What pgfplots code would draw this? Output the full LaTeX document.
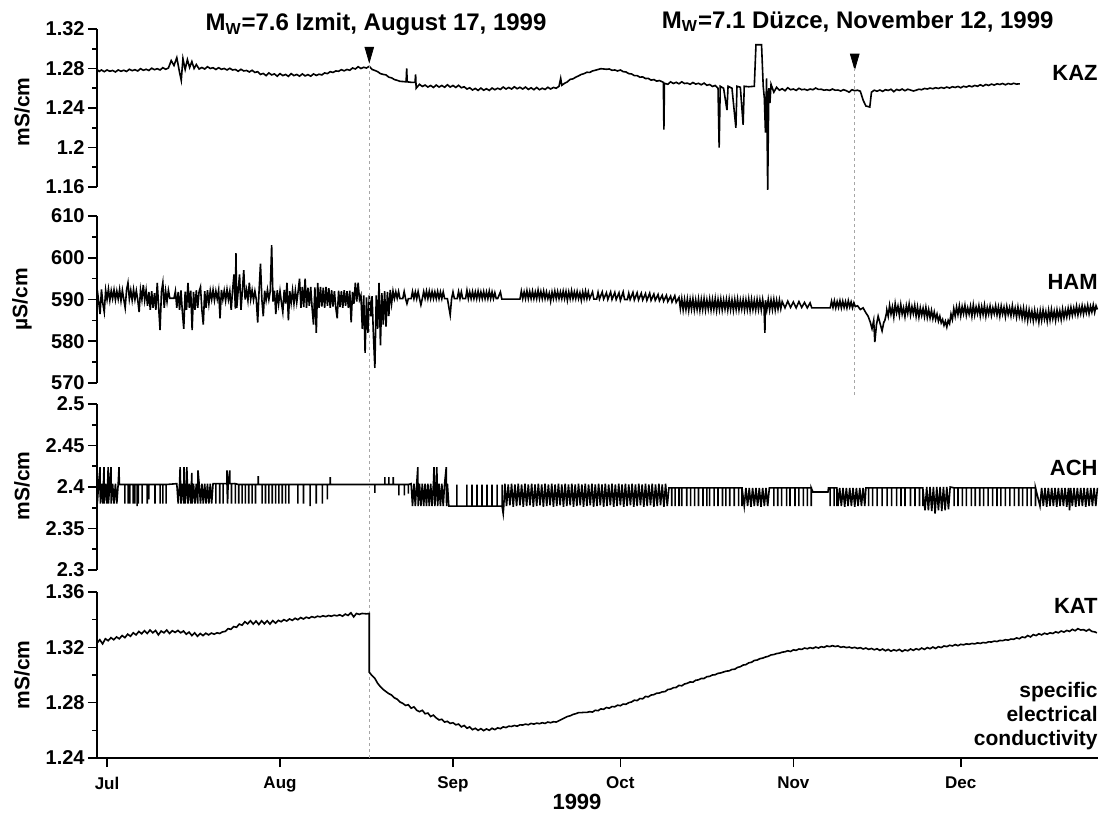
\documentclass[border=0pt]{standalone}
\usepackage{pgfplots}
\pgfplotsset{compat=1.18}
\usepackage{pgfplotstable}
\usepackage{fontspec}
\setmainfont{Liberation Sans}

\pgfplotstableread[row sep=\\]{
x y\\
-1.8 1.2790\\-1.4 1.2770\\-1.0 1.2785\\-0.5 1.2768\\0 1.2785\\0.5 1.2772\\1 1.2780\\1.5 1.2765\\2 1.2785\\2.5 1.2772\\3 1.2782\\3.5 1.2770\\4 1.2792\\4.5 1.2778\\5 1.2788\\5.5 1.2775\\6 1.2798\\6.5 1.2782\\7 1.2792\\7.5 1.2780\\8 1.2803\\8.5 1.2788\\9 1.2798\\9.5 1.2785\\10 1.2808\\10.5 1.2792\\11 1.2805\\11.5 1.2880\\12 1.2830\\12.5 1.2910\\13 1.2760\\13.3 1.2680\\13.6 1.2900\\14 1.2790\\14.4 1.2890\\14.8 1.2810\\15.2 1.2870\\15.6 1.2800\\16 1.2840\\16.5 1.2795\\17 1.2810\\17.5 1.2795\\18 1.2818\\18.5 1.2800\\19 1.2808\\19.5 1.2790\\20 1.2808\\20.5 1.2792\\21 1.2800\\21.5 1.2785\\22 1.2802\\22.5 1.2785\\23 1.2790\\23.5 1.2772\\24 1.2792\\24.5 1.2775\\25 1.2780\\25.5 1.2765\\26 1.2782\\26.5 1.2760\\27 1.2768\\27.5 1.2740\\28 1.2750\\28.5 1.2728\\29 1.2755\\29.5 1.2735\\30 1.2745\\30.5 1.2722\\31 1.2748\\31.5 1.2728\\32 1.2740\\32.5 1.2720\\33 1.2748\\33.5 1.2728\\34 1.2740\\34.5 1.2722\\35 1.2745\\35.5 1.2725\\36 1.2738\\36.5 1.2722\\37 1.2745\\37.5 1.2730\\38 1.2742\\38.5 1.2735\\39 1.2755\\39.5 1.2748\\40 1.2768\\40.5 1.2760\\41 1.2775\\41.5 1.2772\\42 1.2788\\42.5 1.2776\\43 1.2790\\43.5 1.2782\\44 1.2805\\44.5 1.2795\\45 1.2818\\45.5 1.2800\\46 1.2812\\46.5 1.2805\\47 1.2822\\47.5 1.2790\\48 1.2780\\48.5 1.2768\\49 1.2748\\49.5 1.2740\\50 1.2735\\50.5 1.2712\\51 1.2705\\51.5 1.2688\\52 1.2680\\52.5 1.2670\\53 1.2668\\53.6 1.2665\\53.7 1.2800\\53.8 1.2665\\54.5 1.2660\\55.2 1.2660\\55.3 1.2740\\55.4 1.2600\\56 1.2640\\56.5 1.2618\\57 1.2632\\57.5 1.2612\\58 1.2628\\58.5 1.2608\\59 1.2632\\59.5 1.2612\\60 1.2628\\60.5 1.2610\\61 1.2635\\61.5 1.2612\\62 1.2628\\62.5 1.2608\\63 1.2630\\63.5 1.2605\\64 1.2615\\64.5 1.2592\\65 1.2605\\65.5 1.2582\\66 1.2598\\66.5 1.2578\\67 1.2602\\67.5 1.2580\\68 1.2595\\68.5 1.2578\\69 1.2602\\69.5 1.2585\\70 1.2600\\70.5 1.2588\\71 1.2612\\71.5 1.2592\\72 1.2608\\72.5 1.2592\\73 1.2615\\73.5 1.2595\\74 1.2610\\74.5 1.2592\\75 1.2612\\75.5 1.2588\\76 1.2605\\76.5 1.2585\\77 1.2608\\77.5 1.2585\\78 1.2600\\78.5 1.2588\\79 1.2610\\79.5 1.2592\\80 1.2608\\80.5 1.2600\\81 1.2620\\81.3 1.2700\\81.5 1.2630\\82 1.2650\\82.5 1.2665\\83 1.2690\\83.5 1.2695\\84 1.2712\\84.5 1.2725\\85 1.2740\\85.5 1.2748\\86 1.2762\\86.5 1.2760\\87 1.2775\\87.5 1.2782\\88 1.2790\\88.5 1.2798\\89 1.2795\\89.5 1.2792\\90 1.2795\\90.5 1.2782\\91 1.2785\\91.5 1.2775\\92 1.2785\\92.5 1.2768\\93 1.2765\\93.5 1.2748\\94 1.2745\\94.5 1.2728\\95 1.2728\\95.5 1.2712\\96 1.2715\\96.5 1.2698\\97 1.2700\\97.5 1.2682\\98 1.2688\\98.5 1.2672\\99 1.2678\\99.7 1.2660\\99.8 1.2180\\99.9 1.2650\\100.5 1.2640\\101 1.2665\\101.5 1.2648\\102 1.2660\\102.5 1.2645\\103 1.2665\\103.5 1.2648\\104 1.2652\\104.5 1.2640\\105 1.2658\\105.5 1.2642\\106 1.2650\\106.5 1.2635\\107 1.2652\\107.5 1.2630\\108 1.2638\\108.5 1.2618\\109 1.2628\\109.5 1.2600\\109.7 1.2000\\109.9 1.2620\\110.5 1.2600\\111.1 1.2380\\111.3 1.2620\\112 1.2600\\112.7 1.2200\\112.9 1.2620\\113.5 1.2610\\114 1.2230\\114.2 1.2620\\115 1.2615\\116 1.2620\\116.3 1.3040\\117.3 1.3040\\117.6 1.2620\\117.8 1.2500\\118 1.2150\\118.2 1.2700\\118.4 1.1570\\118.6 1.2600\\118.8 1.2450\\119 1.2640\\119.5 1.2560\\120 1.2610\\120.5 1.2580\\121 1.2595\\121.5 1.2575\\122 1.2605\\122.5 1.2585\\123 1.2592\\123.5 1.2578\\124 1.2600\\124.5 1.2585\\125 1.2590\\125.5 1.2580\\126 1.2592\\126.5 1.2585\\127 1.2602\\127.5 1.2588\\128 1.2590\\128.5 1.2580\\129 1.2585\\129.5 1.2578\\130 1.2592\\130.5 1.2580\\131 1.2582\\131.5 1.2572\\132 1.2585\\132.5 1.2575\\133 1.2560\\133.5 1.2585\\134 1.2575\\134.5 1.2580\\135 1.2570\\135.5 1.2480\\136 1.2420\\136.7 1.2410\\137 1.2560\\137.5 1.2580\\138 1.2570\\138.5 1.2582\\139 1.2568\\139.5 1.2585\\140 1.2578\\140.5 1.2590\\141 1.2565\\141.5 1.2588\\142 1.2578\\142.5 1.2592\\143 1.2575\\143.5 1.2590\\144 1.2582\\144.5 1.2572\\145 1.2580\\145.5 1.2590\\146 1.2585\\146.5 1.2598\\147 1.2592\\147.5 1.2602\\148 1.2595\\148.5 1.2605\\149 1.2598\\149.5 1.2608\\150 1.2600\\150.5 1.2612\\151 1.2602\\151.5 1.2615\\152 1.2608\\152.5 1.2618\\153 1.2605\\153.5 1.2620\\154 1.2612\\154.5 1.2625\\155 1.2615\\155.5 1.2628\\156 1.2620\\156.5 1.2635\\157 1.2622\\157.5 1.2638\\158 1.2628\\158.5 1.2642\\159 1.2632\\159.5 1.2645\\160 1.2638\\160.5 1.2648\\161 1.2635\\161.5 1.2648\\162 1.2640\\162.5 1.2650\\163 1.2642\\163.6 1.2645\\
}\kazdata

\pgfplotstableread[row sep=\\]{
x y\\
-1.8 590.5\\-1.75 592.3\\-1.5 589.5\\-1.25 586.5\\-1.0 592.4\\-0.75 589.0\\-0.5 587.0\\-0.25 592.2\\0 590.0\\0.25 592.5\\0.5 589.8\\0.75 592.1\\1.0 590.2\\1.25 592.3\\1.5 589.9\\1.75 592.0\\2.0 590.1\\2.25 592.4\\2.5 589.7\\2.75 592.2\\3.0 590.0\\3.25 588.0\\3.5 592.3\\3.75 594.0\\4.0 590.1\\4.25 592.2\\4.5 589.8\\4.75 592.4\\5.0 590.0\\5.25 592.1\\5.5 589.9\\5.75 587.0\\6.0 592.3\\6.25 590.0\\6.5 593.5\\6.75 589.8\\7.0 592.2\\7.25 588.5\\7.5 591.8\\7.75 587.5\\8.0 592.0\\8.25 588.0\\8.5 591.5\\8.75 587.5\\9.0 594.0\\9.25 588.2\\9.5 582.7\\9.75 591.8\\10.0 594.0\\10.25 588.0\\10.5 592.0\\10.75 589.5\\11.0 592.2\\11.25 590.3\\12.0 590.3\\12.25 592.0\\12.5 588.0\\12.75 591.8\\13.0 587.5\\13.25 592.2\\13.5 587.0\\13.75 583.0\\14.0 591.9\\14.25 587.5\\14.5 594.0\\14.75 588.0\\15.0 592.1\\15.25 582.7\\15.5 591.8\\15.75 587.5\\16.0 592.2\\16.25 588.0\\16.5 591.9\\16.75 593.0\\17.0 587.5\\17.25 584.0\\17.5 592.0\\17.75 588.0\\18.0 592.2\\18.25 589.0\\18.5 592.1\\18.75 590.0\\19.0 592.3\\19.25 589.8\\19.5 592.0\\19.75 590.1\\20.0 592.2\\20.25 585.5\\20.5 592.3\\20.75 590.0\\21.0 592.1\\21.25 589.7\\21.5 592.4\\21.75 590.0\\22.0 592.0\\22.25 587.5\\22.5 592.2\\22.75 596.0\\23.0 587.8\\23.1 601.1\\23.25 588.0\\23.5 592.1\\23.75 596.0\\24.0 587.5\\24.25 592.0\\24.5 597.0\\24.75 590.0\\25.0 592.3\\25.25 589.8\\25.5 594.0\\25.75 590.1\\26.0 592.2\\26.25 589.9\\26.5 592.0\\26.75 590.0\\27.0 584.5\\27.25 592.2\\27.5 598.6\\27.75 590.0\\28.0 586.0\\28.25 592.1\\28.5 589.8\\28.75 592.3\\29.0 590.0\\29.25 592.0\\29.5 603.0\\29.75 589.5\\30.0 592.1\\30.25 586.5\\30.5 592.2\\30.75 589.0\\31.0 592.0\\31.25 589.3\\31.5 587.0\\31.75 592.3\\32.0 589.0\\32.25 594.0\\32.5 585.0\\32.75 592.0\\33.0 589.2\\33.25 592.2\\33.5 589.0\\33.75 592.1\\34.0 589.3\\34.25 592.0\\34.5 595.0\\34.75 588.0\\35.0 593.0\\35.25 588.2\\35.5 595.0\\35.75 588.0\\36.0 592.8\\36.25 588.5\\36.5 593.0\\36.75 588.0\\37.0 584.0\\37.25 592.9\\37.5 582.0\\37.75 594.0\\38.0 588.0\\38.25 593.0\\38.5 588.3\\38.75 592.8\\39.0 588.0\\39.25 593.0\\39.5 588.5\\39.75 592.7\\40.0 588.0\\40.25 592.2\\40.5 588.3\\40.75 592.0\\41.0 588.0\\41.25 585.5\\41.5 592.1\\41.75 588.2\\42.0 592.0\\42.25 588.0\\42.5 592.2\\42.75 588.5\\43.0 592.0\\43.25 588.0\\43.5 592.1\\43.75 584.5\\44.0 591.8\\44.25 589.0\\44.5 594.0\\44.75 589.5\\45.0 594.0\\45.25 590.0\\45.5 591.0\\45.75 583.0\\46.0 591.0\\46.25 577.2\\46.5 590.5\\46.75 582.0\\47.0 591.0\\47.25 586.0\\47.5 590.8\\47.75 581.0\\48.0 573.6\\48.25 591.0\\48.5 583.0\\48.75 594.0\\49.0 579.0\\49.25 591.5\\49.5 584.0\\49.75 592.0\\50.0 583.5\\50.25 591.8\\50.5 586.0\\50.75 592.3\\51.0 589.0\\51.25 592.0\\51.5 590.2\\51.75 591.8\\52.0 590.3\\52.25 591.9\\52.5 590.2\\53.0 590.2\\53.25 591.9\\53.5 590.2\\53.75 589.0\\54.0 590.2\\54.5 590.2\\54.75 591.9\\55.0 590.2\\55.25 591.8\\55.5 590.2\\55.75 591.9\\56.0 590.2\\56.25 588.7\\56.5 590.2\\56.75 591.9\\57.0 590.3\\57.25 592.0\\57.5 590.2\\57.75 592.0\\58.0 590.2\\58.25 591.9\\58.5 590.2\\58.75 591.8\\59.0 590.2\\59.25 591.9\\59.5 590.2\\59.75 591.8\\60.0 590.2\\60.25 591.8\\60.5 590.2\\61.0 590.2\\61.5 586.3\\61.75 590.2\\
62.0 591.8\\62.25 590.2\\62.75 590.2\\63.0 591.9\\63.25 590.2\\63.5 591.8\\63.75 590.2\\64.25 590.2\\64.5 592.2\\64.75 590.2\\65.0 591.8\\65.25 590.2\\65.5 591.9\\65.75 590.2\\66.0 591.8\\66.25 590.2\\66.5 592.0\\66.75 590.2\\67.0 591.8\\67.25 590.2\\67.5 591.9\\67.75 590.2\\68.0 591.8\\68.25 590.2\\68.5 592.0\\68.75 590.2\\69.0 591.8\\69.25 590.2\\69.5 591.6\\69.75 590.2\\70.0 590.2\\70.5 591.8\\70.75 590.1\\74.0 590.1\\
74.25 592.0\\74.5 590.2\\74.75 591.8\\75.0 590.2\\75.25 592.1\\75.5 590.2\\75.75 591.9\\76.0 590.2\\76.25 592.0\\76.5 590.2\\76.75 591.8\\77.0 590.2\\77.25 592.2\\77.5 590.2\\77.75 591.9\\78.0 590.2\\78.25 592.0\\78.5 590.2\\78.75 591.8\\79.0 590.2\\79.25 591.5\\79.5 589.6\\79.75 591.8\\80.0 590.2\\80.25 592.0\\80.5 590.2\\80.75 591.9\\81.0 590.2\\81.25 591.8\\81.5 590.2\\81.75 592.0\\82.0 590.2\\82.25 591.9\\82.5 589.8\\82.75 591.8\\83.0 590.2\\83.25 592.1\\83.5 590.2\\83.75 591.8\\84.0 590.2\\84.25 591.9\\84.5 590.2\\84.75 591.6\\85.0 589.8\\85.25 591.8\\85.5 590.2\\85.75 592.0\\86.0 590.2\\86.25 591.8\\86.5 590.2\\
87.0 591.8\\87.25 590.1\\87.75 590.1\\88.0 591.7\\88.25 590.1\\88.75 591.8\\89.0 590.1\\89.5 591.6\\89.75 590.0\\90.25 591.8\\90.5 590.0\\91.0 591.7\\91.25 590.0\\91.75 591.6\\92.0 589.8\\92.5 591.8\\92.75 590.0\\93.25 590.0\\93.5 591.5\\93.75 590.0\\94.25 591.7\\94.5 589.9\\95.0 591.6\\95.25 589.9\\95.75 591.5\\96.0 589.9\\96.5 591.4\\96.75 589.8\\97.25 591.5\\97.5 589.8\\98.0 591.3\\98.25 589.8\\98.75 591.2\\99.0 589.7\\99.5 591.0\\99.75 589.6\\100.25 591.0\\100.5 589.5\\101.0 590.8\\101.25 589.4\\101.75 590.9\\102.0 589.3\\102.5 590.5\\
102.75 587.8\\103.0 590.2\\103.25 587.5\\103.5 590.0\\103.75 587.6\\104.0 590.1\\104.25 587.4\\104.5 590.0\\104.75 587.7\\105.0 590.2\\105.25 587.5\\105.5 589.9\\105.75 587.6\\106.0 590.1\\106.25 587.4\\106.5 590.0\\106.75 587.6\\107.0 590.2\\107.25 587.5\\107.5 589.9\\107.75 587.7\\108.0 590.1\\108.25 587.5\\108.5 590.0\\108.75 587.6\\109.0 590.2\\109.25 587.4\\109.5 590.0\\109.75 587.6\\110.0 590.1\\110.25 587.5\\110.5 589.9\\110.75 587.7\\111.0 590.0\\111.25 587.5\\111.5 590.1\\111.75 587.6\\112.0 589.9\\112.25 587.4\\112.5 590.0\\112.75 587.6\\113.0 590.1\\113.25 587.5\\113.5 589.8\\113.75 587.7\\114.0 590.0\\114.25 587.5\\114.5 589.9\\114.75 587.6\\115.0 590.1\\115.25 587.4\\115.5 590.0\\115.75 587.6\\116.0 589.8\\116.25 587.5\\116.5 590.0\\116.75 587.6\\117.0 589.9\\117.25 587.5\\117.5 590.0\\117.75 587.8\\117.9 582.0\\118.0 589.8\\118.25 587.6\\118.5 590.0\\118.75 587.5\\119.0 589.9\\119.25 587.6\\119.5 590.0\\119.75 587.5\\120.0 589.8\\120.25 587.7\\120.5 589.9\\120.75 587.8\\
121.0 589.5\\121.5 588.0\\122.0 589.6\\122.5 588.1\\123.0 589.4\\123.5 588.0\\124.0 589.5\\124.5 588.1\\125.0 589.3\\125.5 588.0\\126.0 589.2\\126.3 588.0\\129.6 588.0\\
129.85 589.6\\130.1 588.1\\130.35 589.7\\130.6 588.0\\130.85 589.5\\131.1 588.1\\131.35 589.7\\131.6 588.0\\131.85 589.6\\132.1 588.1\\132.35 589.5\\132.6 588.0\\132.85 589.7\\133.1 588.2\\133.35 589.4\\133.6 588.0\\133.85 589.2\\134.1 588.3\\
134.5 588.5\\135.0 587.6\\135.5 588.0\\136.0 586.8\\136.4 586.0\\136.8 584.5\\137.1 583.0\\137.4 585.0\\137.6 579.8\\137.9 584.0\\138.2 586.0\\138.5 584.5\\138.9 582.5\\139.2 584.5\\139.4 585.0\\139.7 586.8\\
139.75 587.5\\140.0 586.0\\140.25 588.6\\140.5 586.5\\140.75 588.2\\141.0 585.8\\141.25 589.0\\141.5 586.8\\141.75 588.4\\142.0 586.2\\142.25 588.8\\142.5 586.5\\142.75 588.0\\143.0 585.9\\143.25 588.5\\143.5 586.7\\143.75 588.9\\144.0 586.3\\144.25 588.3\\144.5 586.6\\144.75 588.6\\145.0 586.0\\145.25 588.2\\145.5 585.8\\145.75 588.0\\146.0 586.2\\146.25 587.9\\146.5 585.9\\146.75 588.1\\147.0 585.7\\147.25 587.6\\147.5 585.6\\147.75 587.4\\148.0 585.4\\148.25 587.0\\148.5 585.2\\148.75 586.5\\149.0 584.8\\149.25 586.0\\149.5 584.4\\149.75 585.2\\150.0 583.8\\150.25 584.8\\150.5 583.4\\150.75 585.0\\151.0 584.2\\151.25 586.5\\151.5 585.2\\151.75 587.8\\
152.0 586.0\\152.25 588.2\\152.5 586.4\\152.75 588.5\\153.0 586.1\\153.25 588.3\\153.5 586.6\\153.75 588.6\\154.0 586.2\\154.25 588.0\\154.5 586.5\\154.75 588.4\\155.0 586.0\\155.25 588.7\\155.5 586.3\\155.75 588.2\\156.0 586.6\\156.25 588.5\\156.5 586.1\\156.75 588.3\\157.0 586.4\\157.25 588.6\\157.5 586.0\\157.75 588.1\\158.0 586.5\\158.25 588.4\\158.5 586.2\\158.75 588.0\\159.0 586.6\\159.25 588.5\\159.5 586.3\\159.75 588.2\\160.0 586.0\\160.25 588.4\\160.5 586.5\\160.75 588.1\\161.0 585.9\\161.25 588.3\\161.5 586.4\\161.75 588.0\\162.0 586.1\\162.25 588.5\\162.5 586.3\\162.75 587.9\\163.0 585.8\\163.25 588.2\\163.5 586.0\\163.75 587.8\\164.0 585.6\\164.25 587.9\\164.5 585.4\\164.75 587.6\\165.0 585.0\\165.25 587.5\\165.5 585.3\\165.75 587.2\\166.0 584.9\\166.25 587.4\\166.5 585.2\\166.75 587.0\\167.0 584.6\\167.25 587.3\\167.5 585.0\\167.75 587.5\\168.0 585.3\\168.25 587.1\\168.5 584.8\\168.75 587.4\\169.0 585.1\\169.25 587.6\\169.5 585.4\\169.75 587.2\\170.0 585.0\\170.25 587.5\\170.5 585.5\\170.75 587.3\\171.0 585.2\\171.25 587.7\\171.5 585.6\\171.75 587.5\\172.0 585.8\\172.25 587.9\\172.5 586.0\\172.75 588.1\\173.0 586.2\\173.25 588.0\\173.5 586.4\\173.75 588.4\\174.0 586.3\\174.25 588.2\\174.5 586.6\\174.75 588.5\\175.0 586.5\\175.25 588.3\\175.5 586.8\\175.75 588.6\\176.0 586.6\\176.25 588.4\\176.5 587.0\\176.75 588.7\\177.0 586.9\\177.25 588.5\\177.5 587.6\\
}\hamdata

\pgfplotstableread[row sep=\\]{
x y\\
-1.8 2.403\\-1.75 2.38\\-1.5 2.404\\-1.25 2.424\\-1.2 2.38\\-1.0 2.404\\-0.75 2.38\\-0.55 2.424\\-0.5 2.38\\-0.25 2.404\\0.0 2.38\\0.2 2.424\\0.25 2.38\\0.5 2.404\\0.7 2.424\\0.75 2.38\\1.0 2.404\\1.25 2.38\\1.5 2.404\\1.75 2.38\\2.0 2.404\\2.15 2.424\\2.2 2.403\\
3.2 2.403\\3.2 2.38\\3.2 2.403\\3.8 2.403\\3.8 2.38\\3.8 2.403\\4.1 2.403\\4.1 2.38\\4.1 2.403\\4.7 2.403\\4.7 2.38\\4.7 2.403\\5.0 2.403\\5.0 2.38\\5.0 2.403\\5.4 2.403\\5.4 2.377\\5.4 2.403\\5.6 2.403\\5.6 2.38\\5.6 2.403\\6.3 2.403\\6.3 2.38\\6.3 2.403\\7.2 2.403\\7.2 2.38\\7.2 2.403\\7.5 2.403\\7.5 2.385\\7.5 2.403\\8.6 2.403\\8.6 2.38\\8.6 2.403\\9.5 2.403\\9.5 2.38\\9.5 2.403\\10.0 2.403\\10.0 2.38\\10.0 2.403\\10.6 2.403\\10.6 2.38\\10.6 2.403\\12.5 2.404\\
12.75 2.38\\13.0 2.404\\13.1 2.424\\13.25 2.38\\13.5 2.404\\13.75 2.38\\13.8 2.424\\14.0 2.38\\14.25 2.404\\14.3 2.424\\14.5 2.38\\14.75 2.404\\15.0 2.38\\15.2 2.417\\15.25 2.38\\15.5 2.404\\15.75 2.38\\16.0 2.404\\16.25 2.38\\16.3 2.42\\16.5 2.404\\16.75 2.38\\17.0 2.404\\17.25 2.38\\17.5 2.404\\17.75 2.38\\18.0 2.404\\18.25 2.38\\18.5 2.404\\18.75 2.38\\19.0 2.404\\
19.5 2.404\\19.5 2.38\\19.5 2.404\\20.2 2.404\\20.2 2.38\\20.2 2.404\\20.8 2.404\\20.8 2.38\\20.8 2.404\\21.5 2.404\\21.5 2.42\\21.5 2.404\\21.6 2.38\\21.7 2.404\\22.0 2.42\\22.0 2.404\\22.3 2.404\\22.3 2.38\\22.3 2.404\\23.0 2.404\\23.0 2.38\\23.0 2.404\\
23.6 2.403\\23.6 2.38\\23.6 2.403\\24.2 2.403\\24.2 2.38\\24.2 2.403\\24.8 2.403\\24.8 2.38\\24.8 2.403\\25.4 2.403\\25.4 2.38\\25.4 2.403\\26.0 2.403\\26.0 2.38\\26.0 2.403\\26.6 2.403\\26.6 2.38\\26.6 2.403\\27.1 2.403\\27.1 2.413\\27.1 2.403\\27.8 2.403\\27.8 2.38\\27.8 2.403\\28.4 2.403\\28.4 2.38\\28.4 2.403\\29.0 2.403\\29.0 2.38\\29.0 2.403\\29.6 2.403\\29.6 2.38\\29.6 2.403\\30.2 2.403\\30.2 2.38\\30.2 2.403\\30.8 2.403\\30.8 2.38\\30.8 2.403\\31.4 2.403\\31.4 2.38\\31.4 2.403\\32.0 2.403\\32.0 2.38\\32.0 2.403\\32.6 2.403\\32.6 2.38\\32.6 2.403\\34.2 2.403\\34.2 2.38\\34.2 2.403\\35.2 2.403\\35.2 2.38\\35.2 2.403\\36.4 2.403\\36.4 2.377\\36.4 2.403\\37.5 2.403\\37.5 2.38\\37.5 2.403\\38.6 2.403\\38.6 2.38\\38.6 2.403\\39.5 2.403\\39.5 2.385\\39.5 2.403\\
40.0 2.403\\40.0 2.412\\40.0 2.403\\48.0 2.403\\48.0 2.393\\48.0 2.403\\49.8 2.403\\49.8 2.412\\49.8 2.403\\50.5 2.403\\50.5 2.412\\50.5 2.403\\51.3 2.403\\51.3 2.412\\51.3 2.403\\52.3 2.403\\52.3 2.39\\52.3 2.403\\53.3 2.403\\53.3 2.39\\53.3 2.403\\54.0 2.403\\54.0 2.392\\54.0 2.403\\54.5 2.404\\
54.75 2.377\\55.0 2.404\\55.25 2.377\\55.5 2.404\\55.7 2.424\\55.75 2.377\\56.0 2.404\\56.25 2.377\\56.5 2.404\\56.75 2.377\\57.0 2.404\\57.25 2.377\\57.5 2.404\\57.75 2.377\\58.0 2.404\\58.25 2.377\\58.5 2.404\\58.6 2.424\\58.75 2.377\\59.0 2.404\\59.1 2.424\\59.25 2.377\\59.5 2.404\\59.75 2.377\\60.0 2.404\\60.25 2.377\\60.5 2.404\\60.8 2.424\\60.85 2.377\\61.0 2.404\\61.25 2.377\\61.5 2.377\\
62.7 2.377\\62.7 2.403\\62.7 2.377\\64.5 2.377\\64.5 2.403\\64.5 2.377\\65.4 2.377\\65.4 2.403\\65.4 2.377\\66.3 2.377\\66.3 2.403\\66.3 2.377\\67.2 2.377\\67.2 2.403\\67.2 2.377\\68.1 2.377\\68.1 2.403\\68.1 2.377\\69.0 2.377\\69.0 2.403\\69.0 2.377\\69.9 2.377\\69.9 2.403\\69.9 2.377\\70.8 2.377\\70.8 2.403\\70.8 2.377\\71.0 2.368\\71.1 2.377\\
71.3 2.404\\71.6 2.377\\71.9 2.403\\72.2 2.378\\72.5 2.404\\72.8 2.376\\73.1 2.403\\73.4 2.377\\73.7 2.404\\74.0 2.378\\74.3 2.403\\74.6 2.376\\74.9 2.404\\75.2 2.377\\75.5 2.403\\75.8 2.378\\76.1 2.404\\76.4 2.376\\76.7 2.403\\77.0 2.377\\77.3 2.404\\77.6 2.378\\77.9 2.403\\78.2 2.376\\78.5 2.404\\78.8 2.377\\79.1 2.403\\79.4 2.378\\79.7 2.404\\80.0 2.376\\80.3 2.403\\80.6 2.377\\80.9 2.404\\81.2 2.378\\81.5 2.403\\81.8 2.376\\82.1 2.404\\82.4 2.377\\82.7 2.403\\83.0 2.378\\83.3 2.404\\83.6 2.376\\83.9 2.403\\84.2 2.377\\84.5 2.404\\84.8 2.378\\85.1 2.403\\85.4 2.376\\85.7 2.404\\86.0 2.377\\86.3 2.403\\86.6 2.378\\86.9 2.404\\87.2 2.376\\87.5 2.403\\87.8 2.377\\88.1 2.404\\88.4 2.378\\88.7 2.403\\89.0 2.376\\89.3 2.404\\89.6 2.377\\89.9 2.403\\90.2 2.378\\90.5 2.404\\90.8 2.376\\91.1 2.403\\91.4 2.377\\91.7 2.404\\92.0 2.378\\92.3 2.403\\92.6 2.376\\92.9 2.404\\93.2 2.377\\93.5 2.403\\93.8 2.378\\94.1 2.404\\94.4 2.376\\94.7 2.403\\95.0 2.377\\95.3 2.404\\95.6 2.378\\95.9 2.403\\96.2 2.376\\96.5 2.404\\96.8 2.377\\97.1 2.403\\97.4 2.378\\97.7 2.404\\98.0 2.376\\98.3 2.403\\98.6 2.377\\98.9 2.404\\99.2 2.378\\99.5 2.403\\99.8 2.376\\100.1 2.404\\100.4 2.377\\100.7 2.399\\
101.2 2.399\\101.2 2.377\\101.2 2.399\\101.8 2.399\\101.8 2.377\\101.8 2.399\\102.5 2.399\\102.5 2.377\\102.5 2.399\\103.0 2.399\\103.0 2.377\\103.0 2.399\\103.9 2.399\\103.9 2.377\\103.9 2.399\\104.6 2.399\\104.6 2.377\\104.6 2.399\\105.3 2.399\\105.3 2.377\\105.3 2.399\\106.0 2.399\\106.0 2.377\\106.0 2.399\\106.8 2.399\\106.8 2.377\\106.8 2.399\\107.5 2.399\\107.5 2.377\\107.5 2.399\\108.0 2.399\\108.0 2.377\\108.0 2.399\\108.8 2.399\\108.8 2.377\\108.8 2.399\\109.5 2.399\\109.5 2.377\\109.5 2.399\\110.3 2.399\\110.3 2.377\\110.3 2.399\\110.9 2.399\\110.9 2.377\\110.9 2.399\\111.6 2.399\\111.6 2.377\\111.6 2.399\\112.4 2.399\\112.4 2.377\\112.4 2.399\\113.2 2.399\\113.2 2.377\\113.2 2.399\\113.8 2.399\\113.8 2.377\\113.8 2.399\\
114.2 2.377\\114.5 2.399\\114.8 2.377\\115.1 2.399\\115.4 2.376\\115.7 2.399\\116.0 2.377\\116.3 2.399\\116.6 2.377\\116.9 2.399\\117.2 2.376\\117.5 2.399\\117.8 2.377\\118.1 2.399\\118.4 2.377\\118.7 2.399\\
119.5 2.399\\119.5 2.377\\119.5 2.399\\120.2 2.399\\120.2 2.377\\120.2 2.399\\120.9 2.399\\120.9 2.377\\120.9 2.399\\121.8 2.399\\121.8 2.377\\121.8 2.399\\122.4 2.399\\122.4 2.377\\122.4 2.399\\123.3 2.399\\123.3 2.377\\123.3 2.399\\124.0 2.399\\124.0 2.377\\124.0 2.399\\124.8 2.399\\124.8 2.377\\124.8 2.399\\125.5 2.399\\125.5 2.377\\125.5 2.399\\126.2 2.399\\126.2 2.377\\126.2 2.399\\126.5 2.394\\129.2 2.394\\129.3 2.399\\
129.6 2.399\\129.6 2.377\\129.6 2.399\\130.3 2.399\\130.3 2.377\\130.3 2.399\\130.8 2.399\\130.8 2.377\\130.8 2.399\\
131.0 2.377\\131.3 2.399\\131.6 2.377\\131.9 2.399\\132.2 2.376\\132.5 2.399\\132.8 2.377\\133.1 2.399\\133.4 2.377\\133.7 2.399\\134.0 2.376\\134.3 2.399\\134.6 2.377\\134.9 2.399\\135.2 2.377\\135.5 2.399\\135.8 2.377\\136.0 2.399\\
136.5 2.399\\136.5 2.377\\136.5 2.399\\137.2 2.399\\137.2 2.377\\137.2 2.399\\138.0 2.399\\138.0 2.377\\138.0 2.399\\138.9 2.399\\138.9 2.377\\138.9 2.399\\139.8 2.399\\139.8 2.377\\139.8 2.399\\140.6 2.399\\140.6 2.377\\140.6 2.399\\141.5 2.399\\141.5 2.377\\141.5 2.399\\142.3 2.399\\142.3 2.377\\142.3 2.399\\143.0 2.399\\143.0 2.377\\143.0 2.399\\144.0 2.399\\144.0 2.377\\144.0 2.399\\144.8 2.399\\144.8 2.377\\144.8 2.399\\145.6 2.399\\145.6 2.377\\145.6 2.399\\146.2 2.399\\146.2 2.377\\146.2 2.399\\
146.6 2.372\\146.9 2.400\\147.2 2.372\\147.5 2.400\\147.8 2.371\\148.1 2.400\\148.4 2.368\\148.7 2.400\\149.0 2.372\\149.3 2.400\\149.6 2.371\\149.9 2.400\\150.2 2.372\\150.5 2.400\\150.8 2.373\\151.1 2.400\\
151.8 2.399\\151.8 2.377\\151.8 2.399\\152.5 2.399\\152.5 2.377\\152.5 2.399\\153.3 2.399\\153.3 2.377\\153.3 2.399\\154.0 2.399\\154.0 2.377\\154.0 2.399\\154.9 2.399\\154.9 2.377\\154.9 2.399\\155.6 2.399\\155.6 2.377\\155.6 2.399\\156.4 2.399\\156.4 2.377\\156.4 2.399\\157.1 2.399\\157.1 2.377\\157.1 2.399\\157.9 2.399\\157.9 2.377\\157.9 2.399\\158.7 2.399\\158.7 2.377\\158.7 2.399\\159.5 2.399\\159.5 2.377\\159.5 2.399\\160.2 2.399\\160.2 2.377\\160.2 2.399\\161.0 2.399\\161.0 2.377\\161.0 2.399\\161.8 2.399\\161.8 2.377\\161.8 2.399\\162.6 2.399\\162.6 2.377\\162.6 2.399\\163.4 2.399\\163.4 2.377\\163.4 2.399\\164.1 2.399\\164.1 2.377\\164.1 2.399\\164.9 2.399\\164.9 2.377\\164.9 2.399\\165.6 2.399\\165.6 2.377\\165.6 2.399\\166.4 2.399\\166.4 2.377\\166.4 2.399\\
167.2 2.377\\167.5 2.399\\167.8 2.377\\168.1 2.399\\168.4 2.376\\168.7 2.399\\169.0 2.377\\169.3 2.399\\169.6 2.377\\169.9 2.399\\170.2 2.376\\170.5 2.399\\170.8 2.377\\171.1 2.399\\171.4 2.377\\171.7 2.399\\172.0 2.376\\172.3 2.399\\172.5 2.372\\172.7 2.399\\173.0 2.377\\173.3 2.399\\173.6 2.376\\173.9 2.399\\174.2 2.377\\174.5 2.399\\174.8 2.377\\175.1 2.399\\175.4 2.376\\175.7 2.399\\176.0 2.377\\176.3 2.399\\176.6 2.377\\176.9 2.399\\177.2 2.377\\177.5 2.399\\
}\achdata

\pgfplotstableread[row sep=\\]{
x y\\
-1.8 1.3230\\-1.3 1.3255\\-0.8 1.3225\\-0.3 1.3262\\0.2 1.3248\\0.7 1.3270\\1.2 1.3255\\1.7 1.3275\\2.2 1.3262\\2.7 1.3285\\3.2 1.3270\\3.7 1.3295\\4.2 1.3280\\4.7 1.3305\\5.2 1.3290\\5.7 1.3315\\6.2 1.3298\\6.7 1.3320\\7.2 1.3300\\7.7 1.3325\\8.2 1.3305\\8.7 1.3322\\9.2 1.3290\\9.7 1.3318\\10.2 1.3305\\10.7 1.3325\\11.2 1.3300\\11.7 1.3320\\12.2 1.3308\\12.7 1.3322\\13.2 1.3305\\13.7 1.3318\\14.2 1.3295\\14.7 1.3310\\15.2 1.3285\\15.7 1.3305\\16.2 1.3280\\16.7 1.3300\\17.2 1.3285\\17.7 1.3302\\18.2 1.3290\\18.7 1.3303\\19.2 1.3295\\19.7 1.3305\\20.2 1.3300\\20.7 1.3312\\21.2 1.3315\\21.7 1.3335\\22.2 1.3330\\22.7 1.3350\\23.2 1.3345\\23.7 1.3368\\24.2 1.3360\\24.7 1.3385\\25.2 1.3370\\25.7 1.3392\\26.2 1.3368\\26.7 1.3390\\27.2 1.3365\\27.7 1.3392\\28.2 1.3370\\28.7 1.3392\\29.2 1.3368\\29.7 1.3393\\30.2 1.3375\\30.7 1.3395\\31.2 1.3385\\31.7 1.3400\\32.2 1.3390\\32.7 1.3405\\33.2 1.3395\\33.7 1.3410\\34.2 1.3400\\34.7 1.3415\\35.2 1.3405\\35.7 1.3418\\36.2 1.3410\\36.7 1.3422\\37.2 1.3415\\37.7 1.3425\\38.2 1.3420\\38.7 1.3428\\39.2 1.3422\\39.7 1.3430\\40.2 1.3425\\40.7 1.3432\\41.2 1.3428\\41.7 1.3435\\42.2 1.3425\\42.7 1.3440\\43.2 1.3430\\43.7 1.3450\\44.2 1.3420\\44.7 1.3445\\45.2 1.3438\\45.7 1.3445\\46.5 1.3442\\47.0 1.3445\\47.0 1.3020\\
47.5 1.2995\\48.0 1.2975\\48.5 1.2940\\49.0 1.2915\\49.5 1.2895\\50.0 1.2880\\50.5 1.2865\\51.0 1.2855\\51.5 1.2835\\52.0 1.2825\\52.5 1.2805\\53.0 1.2795\\53.5 1.2780\\54.0 1.2785\\54.5 1.2760\\55.0 1.2770\\55.5 1.2745\\56.0 1.2735\\56.5 1.2745\\57.0 1.2720\\57.5 1.2725\\58.0 1.2700\\58.5 1.2710\\59.0 1.2690\\59.5 1.2675\\60.0 1.2680\\60.5 1.2660\\61.0 1.2665\\61.5 1.2650\\62.0 1.2655\\62.5 1.2640\\63.0 1.2645\\63.5 1.2625\\64.0 1.2635\\64.5 1.2615\\65.0 1.2625\\65.5 1.2605\\66.0 1.2615\\66.5 1.2600\\67.0 1.2612\\67.5 1.2598\\68.0 1.2610\\68.5 1.2600\\69.0 1.2615\\69.5 1.2605\\70.0 1.2618\\70.5 1.2612\\71.0 1.2625\\71.5 1.2620\\72.0 1.2630\\72.5 1.2628\\73.0 1.2635\\73.5 1.2630\\74.0 1.2640\\74.5 1.2638\\75.0 1.2645\\75.5 1.2640\\76.0 1.2650\\76.5 1.2645\\77.0 1.2652\\77.5 1.2648\\78.0 1.2655\\78.5 1.2650\\79.0 1.2660\\79.5 1.2655\\80.0 1.2662\\80.5 1.2660\\81.0 1.2670\\81.5 1.2680\\82.0 1.2690\\82.5 1.2700\\83.0 1.2705\\83.5 1.2715\\84.0 1.2720\\84.5 1.2728\\85.0 1.2728\\85.5 1.2730\\86.0 1.2730\\86.5 1.2735\\87.0 1.2732\\87.5 1.2745\\88.0 1.2742\\88.5 1.2755\\89.0 1.2752\\89.5 1.2765\\90.0 1.2760\\90.5 1.2772\\91.0 1.2770\\91.5 1.2782\\92.0 1.2778\\92.5 1.2790\\93.0 1.2788\\93.5 1.2800\\94.0 1.2805\\94.5 1.2818\\95.0 1.2815\\95.5 1.2830\\96.0 1.2828\\96.5 1.2845\\97.0 1.2842\\97.5 1.2855\\98.0 1.2858\\98.5 1.2868\\99.0 1.2870\\99.5 1.2878\\100.0 1.2880\\100.5 1.2895\\101.0 1.2898\\101.5 1.2908\\102.0 1.2910\\102.5 1.2925\\103.0 1.2922\\103.5 1.2935\\104.0 1.2940\\104.5 1.2950\\105.0 1.2948\\105.5 1.2962\\106.0 1.2965\\106.5 1.2975\\107.0 1.2975\\107.5 1.2988\\108.0 1.2990\\108.5 1.3000\\109.0 1.3002\\109.5 1.3012\\110.0 1.3015\\110.5 1.3022\\111.0 1.3028\\111.5 1.3030\\112.0 1.3040\\112.5 1.3042\\113.0 1.3055\\113.5 1.3060\\114.0 1.3072\\114.5 1.3075\\115.0 1.3088\\115.5 1.3092\\116.0 1.3105\\116.5 1.3108\\117.0 1.3118\\117.5 1.3122\\118.0 1.3130\\118.5 1.3135\\119.0 1.3145\\119.5 1.3148\\120.0 1.3155\\120.5 1.3158\\121.0 1.3165\\121.5 1.3168\\122.0 1.3175\\122.5 1.3170\\123.0 1.3182\\123.5 1.3178\\124.0 1.3188\\124.5 1.3185\\125.0 1.3195\\125.5 1.3190\\126.0 1.3198\\126.5 1.3192\\127.0 1.3202\\127.5 1.3195\\128.0 1.3205\\128.5 1.3200\\129.0 1.3210\\129.5 1.3205\\130.0 1.3212\\130.5 1.3206\\131.0 1.3210\\131.5 1.3200\\132.0 1.3205\\132.5 1.3198\\133.0 1.3202\\133.5 1.3195\\134.0 1.3200\\134.5 1.3192\\135.0 1.3198\\135.5 1.3188\\136.0 1.3195\\136.5 1.3185\\137.0 1.3192\\137.5 1.3182\\138.0 1.3190\\138.5 1.3178\\139.0 1.3188\\139.5 1.3175\\140.0 1.3185\\140.5 1.3172\\141.0 1.3182\\141.5 1.3175\\142.0 1.3185\\142.5 1.3170\\143.0 1.3182\\143.5 1.3175\\144.0 1.3188\\144.5 1.3178\\145.0 1.3190\\145.5 1.3182\\146.0 1.3195\\146.5 1.3185\\147.0 1.3198\\147.5 1.3190\\148.0 1.3202\\148.5 1.3192\\149.0 1.3205\\149.5 1.3198\\150.0 1.3210\\150.5 1.3205\\151.0 1.3215\\151.5 1.3210\\152.0 1.3220\\152.5 1.3212\\153.0 1.3222\\153.5 1.3218\\154.0 1.3225\\154.5 1.3222\\155.0 1.3228\\155.5 1.3225\\156.0 1.3232\\156.5 1.3228\\157.0 1.3235\\157.5 1.3232\\158.0 1.3240\\158.5 1.3238\\159.0 1.3245\\159.5 1.3242\\160.0 1.3250\\160.5 1.3248\\161.0 1.3255\\161.5 1.3252\\162.0 1.3260\\162.5 1.3258\\163.0 1.3268\\163.5 1.3262\\164.0 1.3275\\164.5 1.3270\\165.0 1.3285\\165.5 1.3275\\166.0 1.3292\\166.5 1.3285\\167.0 1.3298\\167.5 1.3290\\168.0 1.3302\\168.5 1.3295\\169.0 1.3305\\169.5 1.3300\\170.0 1.3312\\170.5 1.3305\\171.0 1.3318\\171.5 1.3310\\172.0 1.3322\\172.5 1.3315\\173.0 1.3330\\173.5 1.3320\\174.0 1.3335\\174.5 1.3325\\175.0 1.3328\\175.5 1.3318\\176.0 1.3330\\176.5 1.3315\\177.0 1.3312\\177.4 1.3305\\
}\katdata

\pgfplotsset{
  panel/.style={
    scale only axis, width=500.5pt, anchor=south west,
    xmin=-1.8, xmax=177.6,
    axis line style={-, line width=1pt, black},
    tick align=outside, major tick length=4.5pt, minor tick length=2.5pt,
    every tick/.style={line width=0.8pt, black},
    minor y tick num=1,
    yticklabel style={font=\bfseries\fontsize{10}{12}\selectfont, text=black, inner sep=1.5pt},
    clip=false,
  },
  toppanel/.style={panel, axis x line=none, axis y line*=left, xtick=\empty},
  series/.style={black, line width=0.8pt, no marks, line join=miter},
  quake/.style={gray!70, line width=0.6pt, dash pattern=on 1.5pt off 1.5pt},
}
\newcommand{\ylab}[2]{\node[rotate=90, font=\bfseries\fontsize{10.5}{12}\selectfont] at (rel axis cs:-0.075,#1) {#2};}
\newcommand{\stn}[2]{\node[anchor=base east, inner sep=0pt, font=\bfseries\fontsize{11}{13}\selectfont] at (rel axis cs:1.0,#1) {#2};}

\begin{document}
\begin{tikzpicture}
\path[use as bounding box] (0,0) rectangle (553.5pt,407pt);

% KAZ
\begin{axis}[toppanel, at={(48.5pt,313.5pt)}, height=79pt, ymin=1.16, ymax=1.32,
  ytick={1.16,1.2,1.24,1.28,1.32}, yticklabels={1.16,1.2,1.24,1.28,1.32}]
\addplot[series] table[x=x,y=y] {\kazdata};
\addplot[only marks, mark=triangle*, mark size=5pt, mark options={rotate=180, xscale=0.5, fill=black, draw=black}] coordinates {(47,1.2965) (134,1.2895)};
\ylab{0.475}{mS/cm}
\stn{0.677}{KAZ}
\node[anchor=base, inner sep=0pt, font=\bfseries\fontsize{12}{14}\selectfont] at (rel axis cs:0.2787,0.99) {M\textsubscript{W}=7.6 Izmit, August 17, 1999};
\node[anchor=base, inner sep=0pt, font=\bfseries\fontsize{12}{14}\selectfont] at (rel axis cs:0.760,1.005) {M\textsubscript{W}=7.1 Düzce, November 12, 1999};
\end{axis}

% HAM
\begin{axis}[toppanel, at={(48.5pt,215.5pt)}, height=83.5pt, ymin=570, ymax=610,
  ytick={570,580,590,600,610}, yticklabels={570,580,590,600,610}]
\addplot[quake] coordinates {(134,567.1) (134,645.4)};
\addplot[series] table[x=x,y=y] {\hamdata};
\ylab{0.503}{µS/cm}
\stn{0.557}{HAM}
\end{axis}

% ACH
\begin{axis}[toppanel, at={(48.5pt,122pt)}, height=83pt, ymin=2.3, ymax=2.5,
  ytick={2.3,2.35,2.4,2.45,2.5}, yticklabels={2.3,2.35,2.4,2.45,2.5}]
\addplot[series] table[x=x,y=y] {\achdata};
\ylab{0.506}{mS/cm}
\stn{0.572}{ACH}
\end{axis}

% KAT
\begin{axis}[panel, at={(48.5pt,28pt)}, height=83pt, ymin=1.24, ymax=1.36,
  axis x line*=bottom, axis y line*=left,
  ytick={1.24,1.28,1.32,1.36}, yticklabels={1.24,1.28,1.32,1.36},
  xtick={0,31,62,92,123,153}, xticklabels={Jul,Aug,Sep,Oct,Nov,Dec},
  xticklabel style={font=\bfseries\fontsize{8.5}{10}\selectfont, text=black, yshift=-1.5pt},
  minor x tick num=0]
\addplot[quake] coordinates {(47,1.24) (47,1.7431)};
\addplot[series] table[x=x,y=y] {\katdata};
\ylab{0.5}{mS/cm}
\stn{0.873}{KAT}
\node[anchor=south east, inner sep=0pt, align=right, font=\bfseries\fontsize{10.5}{12}\selectfont] at (rel axis cs:1.0,0.045) {specific\\electrical\\conductivity};
\node[font=\bfseries\fontsize{11}{13}\selectfont] at (rel axis cs:0.4795,-0.262) {1999};
\end{axis}
\end{tikzpicture}
\end{document}
